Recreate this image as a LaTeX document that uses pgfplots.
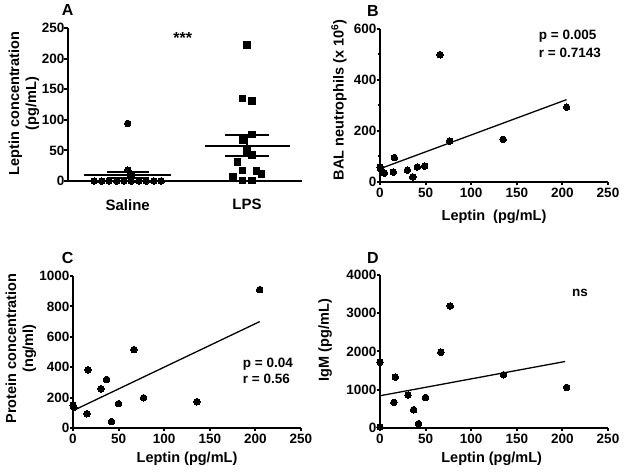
\documentclass[border=0pt]{standalone}
\usepackage{fontspec}
\setmainfont{Liberation Sans}
\usepackage{pgfplots}
\pgfplotsset{compat=1.18}
\newcommand{\labfont}{\bfseries\fontsize{14.5}{17}\selectfont}
\begin{document}
\begin{tikzpicture}
\useasboundingbox (0pt,0pt) rectangle (624pt,476pt);
\pgfplotsset{
  prism/.style={
    scale only axis,
    anchor=south west,
    axis x line*=bottom,
    axis y line*=left,
    every outer x axis line/.append style={-},
    every outer y axis line/.append style={-},
    axis line style={line width=2.2pt, -},
    xtick pos=bottom, ytick pos=left,
    tick style={line width=2pt, black},
    major tick length=3.5pt,
    minor tick length=2.5pt,
    tick align=outside,
    clip=false,
    /pgf/number format/assume math mode=true,
    /pgf/number format/1000 sep={},
    ticklabel style={font=\bfseries\fontsize{13.5}{15}\selectfont},
    yticklabel style={inner xsep=0pt},
    xticklabel style={inner ysep=2.5pt},
    every axis y label/.style={rotate=90, anchor=center, align=center, font=\labfont},
    every axis x label/.style={anchor=center, font=\labfont},
  },
  dots/.style={only marks, mark=*, mark size=3.3pt, black, mark options={fill=black, draw=black, line width=0pt}},
  sq/.style={only marks, mark=square*, mark size=3.3pt, black, mark options={fill=black, draw=black, line width=0pt}},
  reg/.style={black, line width=1.3pt, no marks},
  bar/.style={black, line width=2pt, no marks},
}
% ---------------- A
\begin{axis}[prism, at={(68pt,295pt)}, width=234pt, height=153pt,
  xmin=0.5, xmax=2.46, ymin=0, ymax=250,
  ytick={0,50,100,150,200,250},
  xtick={1,2}, xticklabels={Saline,LPS},
  x tick style={draw=none},
  xticklabel style={font=\bfseries\fontsize{15}{17}\selectfont, yshift=-12pt},
  ylabel={Leptin concentration\\(pg/mL)},
  ylabel style={at={(axis description cs:-0.188,0.506)}},
]
\addplot[dots] coordinates {(0.72,0)(0.782,0)(0.844,0)(0.907,0)(0.969,0)(1.031,0)(1.093,0)(1.156,0)(1.218,0)(1.28,0)(1.0,94)(1.0,18)(1.035,11)};
\addplot[sq] coordinates {(2.0,222.7)(1.96,135)(2.04,131)(2.04,76)(1.96,66.6)(2.0,49)(2.04,42)(1.92,31)(1.96,17)(1.88,7)(2.08,16)(2.12,11)(1.96,0.5)(2.04,0.5)};
\addplot[bar] coordinates {(0.635,9.8)(1.36,9.8)};
\addplot[bar] coordinates {(0.825,15.3)(1.175,15.3)};
\addplot[bar] coordinates {(0.825,4.3)(1.175,4.3)};
\addplot[bar] coordinates {(1,4.3)(1,15.3)};
\addplot[bar] coordinates {(1.647,57.9)(2.361,57.9)};
\addplot[bar] coordinates {(1.815,74.8)(2.185,74.8)};
\addplot[bar] coordinates {(1.815,41)(2.185,41)};
\addplot[bar] coordinates {(2,41)(2,74.8)};
\end{axis}
% ---------------- B
\begin{axis}[prism, at={(380pt,294pt)}, width=228pt, height=153pt,
  xmin=0, xmax=250, ymin=0, ymax=600,
  xtick={0,50,100,150,200,250},
  ytick={0,200,400,600}, minor ytick={100,300,500},
  xlabel={Leptin~~(pg/mL)},
  xlabel style={at={(axis description cs:0.5,-0.229)}},
  ylabel={BAL neutrophils (x 10\textsuperscript{6})},
  ylabel style={at={(axis description cs:-0.18,0.536)}},
]
\addplot[dots] coordinates {(0,58)(1,50)(4.8,35)(15.7,96)(14.6,39)(30,46)(36,20)(41,59)(49,62)(66,499)(76.5,160)(135,167)(204.6,293)};
\addplot[reg] coordinates {(0,52)(204.6,323)};
\end{axis}
% ---------------- C
\begin{axis}[prism, at={(73pt,48pt)}, width=228pt, height=152pt,
  xmin=0, xmax=250, ymin=0, ymax=1000,
  xtick={0,50,100,150,200,250},
  ytick={0,200,400,600,800,1000},
  xlabel={Leptin (pg/mL)},
  xlabel style={at={(axis description cs:0.5,-0.2)}},
  ylabel={Protein concentration\\(ng/ml)},
  ylabel style={at={(axis description cs:-0.228,0.523)}},
]
\addplot[dots] coordinates {(0,150)(1,135)(15.3,94)(16.4,383)(30.7,258)(36.9,319)(42.3,42)(50,160)(66.8,516)(77.4,199)(135.8,173)(204.7,910)};
\addplot[reg] coordinates {(0,114)(204.7,700)};
\end{axis}
% ---------------- D
\begin{axis}[prism, at={(380pt,48pt)}, width=228pt, height=153pt,
  xmin=0, xmax=250, ymin=0, ymax=4000,
  xtick={0,50,100,150,200,250},
  ytick={0,1000,2000,3000,4000},
  xlabel={Leptin (pg/mL)},
  xlabel style={at={(axis description cs:0.49,-0.2)}},
  ylabel={IgM (pg/mL)},
  ylabel style={at={(axis description cs:-0.24,0.575)}},
]
\addplot[dots] coordinates {(0,1722)(0,26)(15.3,670)(16.8,1330)(30.7,861)(36.9,478)(42.3,113)(50,800)(66.8,1983)(77,3191)(135.4,1391)(204.7,1061)};
\addplot[reg] coordinates {(0,843)(203,1739)};
\end{axis}
% ---------------- annotations
\begin{scope}[every node/.style={inner sep=0pt, anchor=base west, font=\bfseries\fontsize{16}{18}\selectfont}]
\node at (61.7pt,460pt) {A};
\node at (367pt,459.3pt) {B};
\node at (61.7pt,212.7pt) {C};
\node at (367pt,212.7pt) {D};
\end{scope}
\node[inner sep=0pt, anchor=base, font=\bfseries\fontsize{16}{18}\selectfont] at (182.7pt,432.5pt) {***};
\begin{scope}[every node/.style={inner sep=0pt, anchor=base west, font=\bfseries\fontsize{13.5}{15}\selectfont}]
\node at (538.7pt,436.7pt) {p = 0.005};
\node at (538.7pt,418.7pt) {r = 0.7143};
\node at (242.7pt,108.3pt) {p = 0.04};
\node at (242.7pt,92.7pt) {r = 0.56};
\node at (572pt,179.3pt) {ns};
\end{scope}
\end{tikzpicture}
\end{document}
